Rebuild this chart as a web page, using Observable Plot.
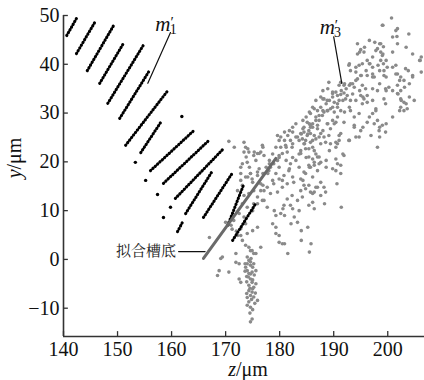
<!DOCTYPE html>
<html><head><meta charset="utf-8">
<script src="https://cdn.jsdelivr.net/npm/d3@7"></script>
<script src="https://cdn.jsdelivr.net/npm/@observablehq/plot@0.6"></script>
<style>html,body{margin:0;padding:0;background:#fff}svg{display:block}</style>
</head><body><div id="chart"></div>
<script>
const xTicks = [140,150,160,170,180,190,200];
const yTicks = [-10,0,10,20,30,40,50];
const xDomain = [140, 206.8];
const yDomain = [-15.8, 50];

// m1' : black dotted stripes [z1, y1, z2, y2]
const m1Stripes = [
  [140.6,45.9,142.4,49.4],[142.4,42.2,145.9,48.8],[144.4,38.7,149.3,48.0],
  [146.7,36.1,151.1,44.3],[148.2,32.0,155.0,44.3],[150.4,28.9,155.9,38.7],
  [151.5,23.4,159.3,34.6],[154.3,21.9,158.0,28.1],[156.1,18.2,164.1,26.4],
  [158.5,15.6,166.9,24.4],[160.7,12.5,169.6,22.7],[162.6,9.4,167.6,18.2],
  [165.9,8.6,171.3,17.8],[170.4,7.0,173.3,15.2],[171.3,3.9,175.6,11.5],
  [161.1,5.7,162.2,8.0]
];
const m1Dots = [[153.3,19.9],[155.2,16.2],[157.4,13.3],[159.8,10.7],[158.5,8.6],[161.9,29.3]];

// m3' : grey scattered points [z, y]
const m3Points = [
[200.7,49.5],[199.0,48.0],[201.8,47.3],[203.9,46.2],[201.7,45.7],[194.4,44.2],[197.6,44.5],[198.7,44.2],[199.2,43.6],[201.8,44.2],[195.0,43.0],[195.6,42.5],[198.1,43.2],[198.7,42.5],[199.0,41.8],[194.4,42.1],[200.9,42.5],[206.0,40.8],[206.2,41.5],[192.8,39.8],[193.1,38.7],[194.7,39.8],[195.3,40.1],[196.2,40.8],[196.7,40.1],[197.2,39.4],[198.7,40.8],[199.2,40.1],[198.2,39.8],[199.9,39.4],[201.5,39.8],[203.3,39.1],[203.8,38.7],[194.1,38.4],[195.0,37.7],[194.4,37.0],[196.2,37.7],[197.2,38.0],[197.5,37.4],[199.3,38.7],[199.3,37.7],[201.8,38.0],[202.4,37.4],[203.0,36.7],[204.6,37.7],[189.1,36.3],[191.3,36.3],[191.9,35.7],[193.1,36.0],[193.8,35.3],[195.3,35.7],[195.9,35.0],[197.2,35.0],[198.1,34.6],[199.6,35.0],[200.2,35.3],[200.9,34.6],[201.8,35.7],[202.4,34.6],[187.6,33.3],[188.2,32.9],[188.8,32.6],[189.8,34.0],[190.4,34.3],[191.3,33.8],[191.9,34.1],[192.5,33.6],[190.1,32.2],[191.0,32.6],[192.2,32.9],[193.1,32.6],[195.0,33.6],[195.6,32.9],[196.2,33.6],[195.3,31.9],[196.2,32.2],[199.3,32.9],[199.6,31.9],[201.8,34.0],[202.4,32.9],[203.0,32.2],[204.9,32.6],[186.4,30.9],[187.0,30.5],[187.6,31.2],[188.2,30.2],[185.7,29.9],[186.7,29.2],[187.3,28.5],[187.9,29.5],[188.8,30.5],[189.4,30.9],[190.1,30.2],[190.7,31.2],[191.3,30.5],[193.1,30.5],[193.8,29.2],[194.7,29.9],[197.8,30.9],[197.2,29.9],[202.4,31.2],[203.0,30.5],[203.6,30.9],[185.1,28.1],[186.1,27.8],[187.0,27.5],[184.5,27.1],[190.1,27.8],[191.9,28.1],[193.8,27.5],[196.2,28.1],[198.1,28.5],
[185.7,27.1],[185.4,26.4],[183.9,25.8],[184.5,26.1],[185.1,25.4],[185.7,25.8],[186.4,25.4],[186.7,24.7],[184.2,24.7],[184.8,24.4],[185.7,24.0],[187.6,25.8],[188.2,25.1],[189.1,25.4],[189.4,26.8],[188.8,27.8],[190.4,28.1],[187.6,23.7],[188.5,24.0],[189.4,23.7],[190.4,24.0],[190.7,23.7],[191.0,25.4],[191.3,25.8],[192.8,24.4],[193.8,27.1],[195.0,26.4],[196.9,25.4],[197.5,27.8],[198.4,26.4],[199.0,27.5],[199.6,26.1],[194.7,25.1],[198.1,23.0],[183.9,22.3],[184.8,22.7],[185.4,21.0],[186.1,20.6],[187.0,21.0],[187.6,19.9],[185.4,19.3],[186.4,19.3],[191.9,21.3],[190.4,20.6],[190.7,19.6],[191.3,19.3],[189.8,18.6],[191.3,17.6],[184.5,17.9],[187.6,15.8],[188.2,14.8],[188.5,13.8],[186.4,13.8],[186.1,13.5],[186.7,14.8],[185.4,15.2],[184.5,15.2],[184.8,14.5],[190.6,15.5],
[179.0,10.0],[179.3,9.0],[180.9,9.0],[180.6,10.4],[182.4,10.4],[182.7,8.7],[183.6,10.0],[182.1,7.3],[183.3,7.6],[184.0,5.9],[185.2,6.6],[186.1,11.7],[187.6,13.1],[188.3,11.4],[191.4,10.7],[178.7,7.3],[179.3,5.3],[179.9,3.5],[180.9,3.2],[181.5,1.2],[184.0,3.9],[185.5,1.5],[185.8,3.2],
[172.8,4.9],[173.1,3.9],[173.7,2.9],[174.3,2.5],[174.9,1.8],[175.2,1.2],[174.0,0.5],[174.3,-0.2],[174.6,-1.2],[175.2,-0.9],[173.7,-1.6],[174.0,-2.3],[174.3,-2.9],[174.9,-2.6],[175.6,-2.3],[174.6,-4.0],[174.9,-4.7],[174.3,-5.3],[175.2,-5.7],[175.6,-5.0],[174.3,-6.4],[174.9,-6.7],[174.6,-7.4],[175.2,-7.7],[175.9,-8.4],[174.3,-8.7],[174.6,-9.8],[174.9,-12.2],[174.6,-12.8],[169.4,0.5],[168.8,-2.3],[170.6,-2.6],[171.9,-0.6],[172.5,-4.0],[172.8,-4.7],[179.3,6.6],[179.9,4.9],[180.5,3.2],
[173.6,-0.9],[174.7,0.2],[175.0,-1.6],[173.9,-3.5],[175.3,-3.2],[173.9,-4.6],[174.5,-5.9],[175.0,-6.0],[173.9,-7.0],[174.0,-7.8],[175.5,-6.9],[174.8,-8.2],[175.4,-9.0],[174.0,-9.4],[175.0,-10.3],[174.5,-11.0],[174.2,-3.6],[174.6,-3.0],[175.0,-4.2],[173.6,-2.4],[170.0,7.6],[171.0,7.0],[171.5,8.0],[171.2,6.2],[172.0,5.8],
[173.4,24.0],[173.7,23.0],[174.3,22.0],[175.2,21.3],[175.9,21.7],[176.5,22.0],[177.1,21.3],[176.8,23.4],[175.6,20.3],[173.4,22.0],[174.0,19.9],[172.8,18.9],[174.6,17.6],[174.9,16.5],[175.9,17.2],[177.1,17.6],[178.0,18.2],[178.3,18.9],[178.9,19.6],[179.6,20.3],[179.9,21.3],[180.5,21.7],[180.2,23.0],[181.1,23.4],[181.4,22.0],[182.0,24.4],[182.3,23.0],[183.3,25.1],[184.5,23.7],[185.7,27.5],[187.0,26.8],[185.4,22.7],[186.4,22.3],[187.3,21.0],[183.9,21.7],[183.0,20.3],[182.0,19.6],[181.7,18.2],[180.8,17.2],[179.9,16.5],[178.9,15.5],[177.7,14.8],[176.5,14.1],[175.9,12.8],[177.1,12.1],[175.2,11.4],[174.9,10.0],[178.3,13.5],[179.6,13.8],[180.5,14.8],[181.4,15.5],[182.6,15.8],[183.9,16.5],[184.8,17.6],[185.7,18.9],[186.4,19.9],[187.0,18.2],[183.9,14.1],[182.3,13.1],[181.4,12.4],[180.8,11.1],[180.2,9.4],[182.0,11.1],[183.3,12.1],[184.2,12.8],[185.7,13.8],[187.0,14.8],[185.4,11.1],[186.4,10.4],
[174.1,22.7],[173.8,21.0],[175.3,22.0],[176.2,21.7],[176.9,23.0],[174.4,18.9],[173.1,19.6],[172.8,17.6],[174.1,16.9],[176.2,18.6],[176.9,17.6],[178.1,19.6],[177.8,17.6],[175.0,15.8],[173.1,15.2],[176.9,15.2],[178.7,16.2],[170.6,24.2],[171.6,23.0],
[180.2,25.1],[180.9,24.4],[181.5,25.4],[182.4,26.1],[183.0,25.1],[184.0,25.7],[184.3,26.8],[185.5,27.8],[186.1,27.1],[186.7,28.5],[187.3,29.5],[188.0,30.5],[188.6,31.9],[189.2,32.6],[189.8,33.3],[190.7,33.6],[191.4,34.6],[192.3,35.0],[192.9,35.7],[193.5,36.0],[188.9,30.5],[189.8,31.2],[190.7,31.9],[191.7,32.6],[185.2,25.7],[186.1,24.4],[187.3,25.1],[188.0,26.4],[188.9,27.8],[189.8,28.5],[190.7,29.2],[192.0,30.2],[192.9,31.2],[194.1,32.6],[195.4,33.3],[193.5,33.9],[194.8,34.6],[194.1,36.7],[195.1,37.7],[196.0,38.7],[196.6,40.1],[197.2,41.5],[197.8,42.8],[194.1,39.4],[192.9,40.1],[194.8,42.5],[195.7,43.5],[196.6,44.9],[198.5,44.2],[199.1,42.1],[199.7,40.8],[200.9,39.4],[201.5,38.0],[202.2,36.7],[203.1,35.3],[204.0,33.3],[203.4,31.9],[202.2,30.5],[200.9,29.2],[199.7,27.8],[198.5,27.1],[197.8,30.5],[196.6,29.2],[195.4,27.1],[194.1,25.1],[192.9,24.4],[191.0,24.4],[190.4,23.0],[191.7,21.6],[189.2,22.3],[188.6,20.3],[199.1,48.0],[200.9,45.6],[201.5,46.9],[203.4,43.5],[204.6,42.1],[205.9,40.8],[206.2,38.4],[204.6,37.4],[204.0,36.0],[201.9,33.9],[202.5,32.6],[198.5,25.1],[197.2,32.6],[199.7,34.6],[198.5,36.0],[199.7,37.4],[197.2,37.4],[198.5,38.7],
[188.0,34.6],[188.9,35.0],[189.8,34.3],[191.0,35.7],[192.0,36.0],[188.0,32.9],[186.7,32.6],[186.1,31.2],[185.5,30.2],[184.9,29.2],[184.3,28.5],[183.0,27.8],[182.4,27.1],[181.8,26.4],[180.9,26.1],[179.9,24.4],[179.3,23.0],[179.6,25.4],[181.2,23.0],[182.4,23.7],[183.6,24.4],[184.6,23.7],[186.1,23.0],[186.7,21.6],[184.9,20.9],[183.6,21.6],[182.4,20.9],[181.2,20.3],[179.9,20.9],[178.7,21.6],[178.1,20.3],[177.5,18.9],[179.9,18.9],[181.8,18.6],[183.6,18.9],[185.5,18.9],[187.3,19.6],[188.6,18.9],[190.4,18.2],[186.1,16.9],[184.3,16.2],[182.4,16.9],[180.5,16.2],[179.3,17.6],
[172.8,16.2],[173.7,16.9],[174.6,17.6],[175.9,17.9],[172.2,14.1],[173.4,13.1],[174.3,13.5],[175.2,14.1],[176.5,15.5],[177.1,14.1],[173.1,11.4],[174.0,10.7],[175.0,10.0],[175.9,11.4],[176.8,12.1],[177.7,10.7],[172.5,9.4],[173.4,8.7],[173.7,7.3],[172.8,6.3],[174.0,5.3],[175.0,5.9],[175.9,6.6],[172.2,4.9],[174.6,1.8],[175.6,1.2],[176.5,2.5],[167.0,4.5],[169.1,0.2],[168.5,-3.3],[171.9,1.2],[172.5,-0.9],[174.0,-0.9],[174.6,-0.5]
];

// fitted groove bottom line and annotations
const fitLine = [[165.9,0.2],[179.3,20.7]];
const fitLeader = [[161.3,1.6],[166.2,1.6]];
const fitLabel = [{z:161.0, y:1.6, t:"拟合槽底"}];
const m1Leader = [[159.8,46.5],[155.6,36.1]];
const m3Leader = [[190.0,45.6],[191.5,36.1]];
const mLabels = [{z:157.0, y:46.9, s:"1"},{z:187.4, y:46.3, s:"3"}];

const SERIF = "Liberation Serif";
const CJK = "Noto Serif CJK SC";
const axisColor = "#333";

const plot = Plot.plot({
  width: 424, height: 380,
  marginLeft: 63, marginRight: 0, marginTop: 15, marginBottom: 44,
  style: {background: "#fff", color: "#111"},
  x: {domain: xDomain},
  y: {domain: yDomain},
  marks: [
    Plot.dot(m3Points, {x: d => d[0], y: d => d[1], r: 1.8, fill: "#8a8a8a", stroke: "none"}),
    Plot.link(m1Stripes, {x1: d => d[0], y1: d => d[1], x2: d => d[2], y2: d => d[3],
      stroke: "#000", strokeWidth: 3.1, strokeLinecap: "round", strokeDasharray: "0.3,2.9"}),
    Plot.dot(m1Dots, {x: d => d[0], y: d => d[1], r: 1.7, fill: "#000", stroke: "none"}),
    Plot.line(fitLine, {x: d => d[0], y: d => d[1], stroke: "#6a6a6a", strokeWidth: 3}),
    Plot.line(fitLeader, {x: d => d[0], y: d => d[1], stroke: "#111", strokeWidth: 1.2}),
    Plot.line(m1Leader, {x: d => d[0], y: d => d[1], stroke: "#111", strokeWidth: 1.2}),
    Plot.line(m3Leader, {x: d => d[0], y: d => d[1], stroke: "#111", strokeWidth: 1.2}),
    Plot.text(fitLabel, {x: "z", y: "y", text: "t", textAnchor: "end", dx: -1,
      fontSize: 15, fill: "#222"}),
    Plot.text(mLabels, {x: "z", y: "y", text: d => "m|" + d.s, textAnchor: "start", lineAnchor: "bottom",
      fontSize: 21, fill: "#111"}),
    // axes
    Plot.ruleY([yDomain[0]], {stroke: axisColor, strokeWidth: 1.6}),
    Plot.ruleX([xDomain[0]], {stroke: axisColor, strokeWidth: 1.6}),
    Plot.ruleX(xTicks, {x: d => d, y1: yDomain[0], y2: yDomain[0] + 1.0, stroke: axisColor, strokeWidth: 1.3}),
    Plot.ruleY(yTicks, {y: d => d, x1: xDomain[0], x2: xDomain[0] + 0.9, stroke: axisColor, strokeWidth: 1.3}),
    Plot.axisX(xTicks, {tickSize: 0, tickPadding: 5, fontSize: 20, label: null, fill: "#111"}),
    Plot.axisY(yTicks, {tickSize: 0, tickPadding: 4, fontSize: 20, label: null, fill: "#111"})
  ]
});

const svg = d3.select(plot);
svg.attr("font-family", SERIF);
svg.selectAll("text").filter(function() { return this.textContent.startsWith("m|"); }).each(function() {
  const s = this.textContent.split("|")[1];
  const t = d3.select(this);
  t.text(null);
  t.append("tspan").attr("font-style", "italic").text("m");
  t.append("tspan").attr("font-size", 15).attr("dy", -4).text("′");
  t.append("tspan").attr("font-size", 14).attr("dx", -4).attr("dy", 7).text(s);
});
const yt = svg.append("text")
  .attr("transform", "translate(21,158) rotate(-90)")
  .attr("text-anchor", "middle")
  .attr("font-size", 20).attr("fill", "#111");
yt.append("tspan").attr("font-style", "italic").text("y");
yt.append("tspan").text("/μm");
const xt = svg.append("text")
  .attr("transform", "translate(248,376)")
  .attr("text-anchor", "middle")
  .attr("font-size", 20).attr("fill", "#111");
xt.append("tspan").attr("font-style", "italic").text("z");
xt.append("tspan").text("/μm");

// set the font as a plain presentation attribute on every text and its group
svg.selectAll("g").attr("font-family", SERIF);
svg.selectAll("text").each(function() {
  const isCJK = /[\u4e00-\u9fff]/.test(this.textContent);
  this.setAttribute("font-family", isCJK ? CJK : SERIF);
});

document.getElementById("chart").appendChild(plot);
</script>
</body></html>
